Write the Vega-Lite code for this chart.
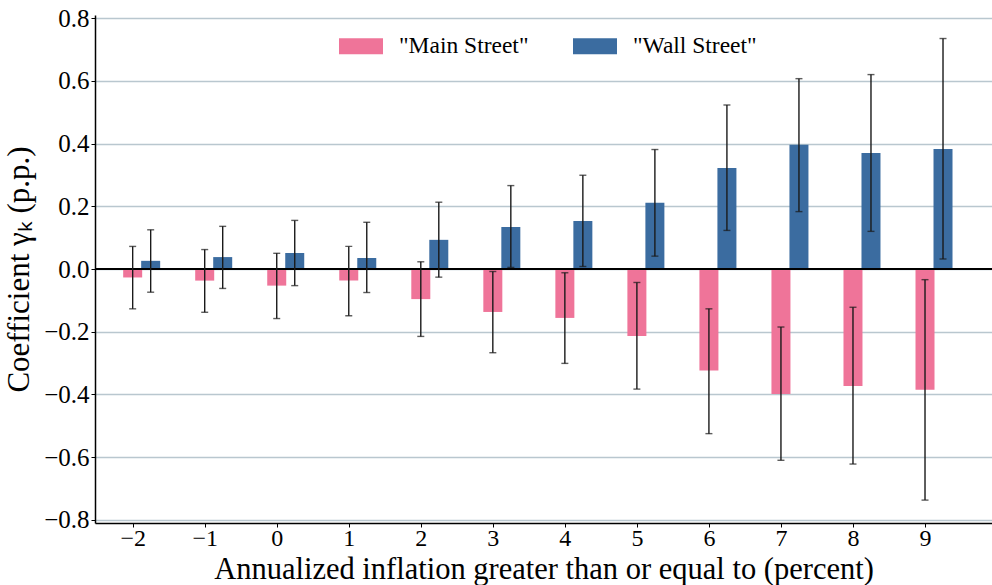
{
  "$schema": "https://vega.github.io/schema/vega-lite/v6.json",
  "autosize": "none",
  "width": 897,
  "height": 508,
  "padding": {"left": 95, "top": 15, "right": 0, "bottom": 62},
  "background": "white",
  "config": {
    "view": {"stroke": null},
    "font": "Liberation Serif",
    "axis": {"labelFont": "Liberation Serif", "titleFont": "Liberation Serif", "labelColor": "black", "titleColor": "black", "titleFontWeight": "normal"},
    "legend": {"labelFont": "Liberation Serif", "labelColor": "black"}
  },
  "data": {
    "values": [
      {"k": -2, "series": "\"Main Street\"", "coef": -0.027, "lo": -0.127, "hi": 0.072},
      {"k": -1, "series": "\"Main Street\"", "coef": -0.037, "lo": -0.138, "hi": 0.062},
      {"k": 0, "series": "\"Main Street\"", "coef": -0.053, "lo": -0.158, "hi": 0.050},
      {"k": 1, "series": "\"Main Street\"", "coef": -0.037, "lo": -0.149, "hi": 0.072},
      {"k": 2, "series": "\"Main Street\"", "coef": -0.096, "lo": -0.215, "hi": 0.023},
      {"k": 3, "series": "\"Main Street\"", "coef": -0.137, "lo": -0.267, "hi": -0.008},
      {"k": 4, "series": "\"Main Street\"", "coef": -0.156, "lo": -0.301, "hi": -0.012},
      {"k": 5, "series": "\"Main Street\"", "coef": -0.214, "lo": -0.383, "hi": -0.043},
      {"k": 6, "series": "\"Main Street\"", "coef": -0.324, "lo": -0.525, "hi": -0.127},
      {"k": 7, "series": "\"Main Street\"", "coef": -0.399, "lo": -0.610, "hi": -0.185},
      {"k": 8, "series": "\"Main Street\"", "coef": -0.373, "lo": -0.622, "hi": -0.122},
      {"k": 9, "series": "\"Main Street\"", "coef": -0.385, "lo": -0.737, "hi": -0.034},
      {"k": -2, "series": "\"Wall Street\"", "coef": 0.026, "lo": -0.074, "hi": 0.125},
      {"k": -1, "series": "\"Wall Street\"", "coef": 0.038, "lo": -0.062, "hi": 0.136},
      {"k": 0, "series": "\"Wall Street\"", "coef": 0.051, "lo": -0.053, "hi": 0.155},
      {"k": 1, "series": "\"Wall Street\"", "coef": 0.035, "lo": -0.075, "hi": 0.149},
      {"k": 2, "series": "\"Wall Street\"", "coef": 0.093, "lo": -0.026, "hi": 0.213},
      {"k": 3, "series": "\"Wall Street\"", "coef": 0.134, "lo": 0.005, "hi": 0.266},
      {"k": 4, "series": "\"Wall Street\"", "coef": 0.153, "lo": 0.008, "hi": 0.299},
      {"k": 5, "series": "\"Wall Street\"", "coef": 0.211, "lo": 0.041, "hi": 0.381},
      {"k": 6, "series": "\"Wall Street\"", "coef": 0.322, "lo": 0.123, "hi": 0.523},
      {"k": 7, "series": "\"Wall Street\"", "coef": 0.396, "lo": 0.183, "hi": 0.607},
      {"k": 8, "series": "\"Wall Street\"", "coef": 0.370, "lo": 0.120, "hi": 0.620},
      {"k": 9, "series": "\"Wall Street\"", "coef": 0.383, "lo": 0.032, "hi": 0.735}
    ]
  },
  "encoding": {
    "x": {
      "field": "k", "type": "quantitative",
      "scale": {"domain": [-2.523, 9.93], "nice": false, "zero": false, "padding": 0},
      "axis": {
        "title": "Annualized inflation greater than or equal to (percent)",
        "values": [-2, -1, 0, 1, 2, 3, 4, 5, 6, 7, 8, 9],
        "format": "d",
        "grid": false,
        "domainColor": "black", "domainWidth": 1.5,
        "tickColor": "black", "tickSize": 4, "tickWidth": 1,
        "labelFontSize": 24, "labelPadding": -1,
        "titleFontSize": 30.5, "titleBaseline": "alphabetic", "titleY": 55
      }
    },
    "y": {
      "field": "coef", "type": "quantitative",
      "scale": {"domain": [-0.81, 0.81], "nice": false, "padding": 0},
      "axis": {
        "title": "Coefficient γₖ (p.p.)",
        "values": [-0.8, -0.6, -0.4, -0.2, 0, 0.2, 0.4, 0.6, 0.8],
        "format": ".1f",
        "grid": true, "gridColor": "#b9c7cf", "gridWidth": 1.3,
        "domainColor": "black", "domainWidth": 1.5,
        "tickColor": "black", "tickSize": 4, "tickWidth": 1,
        "labelFontSize": 25, "labelPadding": 2,
        "titleFontSize": 31, "titlePadding": 8
      }
    }
  },
  "layer": [
    {
      "transform": [{"filter": {"field": "series", "equal": "\"Main Street\""}}],
      "mark": {"type": "bar", "width": 19},
      "encoding": {
        "color": {
          "field": "series", "type": "nominal",
          "scale": {"domain": ["\"Main Street\"", "\"Wall Street\""], "range": ["#EF7499", "#3B6CA0"]},
          "legend": {
            "title": null, "orient": "none", "direction": "horizontal",
            "legendX": 244, "legendY": 9,
            "symbolType": "M-1,-0.364H1V0.364H-1Z", "symbolSize": 1936, "symbolStrokeWidth": 0,
            "labelFontSize": 23.5, "labelOffset": 16, "columnPadding": 44, "padding": 0
          }
        }
      }
    },
    {
      "transform": [{"filter": {"field": "series", "equal": "\"Wall Street\""}}],
      "mark": {"type": "bar", "width": 19, "xOffset": 18},
      "encoding": {"color": {"field": "series", "type": "nominal"}}
    },
    {
      "mark": {"type": "rule", "color": "black", "strokeWidth": 1.8},
      "encoding": {"y": {"datum": 0}, "x": null}
    },
    {
      "transform": [{"filter": {"field": "series", "equal": "\"Main Street\""}}],
      "mark": {"type": "rule", "color": "#1a1a1a", "strokeWidth": 1.4},
      "encoding": {"y": {"field": "lo", "type": "quantitative"}, "y2": {"field": "hi"}}
    },
    {
      "transform": [{"filter": {"field": "series", "equal": "\"Wall Street\""}}],
      "mark": {"type": "rule", "color": "#1a1a1a", "strokeWidth": 1.4, "xOffset": 18},
      "encoding": {"y": {"field": "lo", "type": "quantitative"}, "y2": {"field": "hi"}}
    },
    {
      "transform": [
        {"filter": {"field": "series", "equal": "\"Main Street\""}},
        {"fold": ["lo", "hi"], "as": ["end", "val"]}
      ],
      "mark": {"type": "tick", "orient": "horizontal", "size": 7, "thickness": 1.4, "color": "#1a1a1a"},
      "encoding": {"y": {"field": "val", "type": "quantitative"}}
    },
    {
      "transform": [
        {"filter": {"field": "series", "equal": "\"Wall Street\""}},
        {"fold": ["lo", "hi"], "as": ["end", "val"]}
      ],
      "mark": {"type": "tick", "orient": "horizontal", "size": 7, "thickness": 1.4, "color": "#1a1a1a", "xOffset": 18},
      "encoding": {"y": {"field": "val", "type": "quantitative"}}
    }
  ]
}
